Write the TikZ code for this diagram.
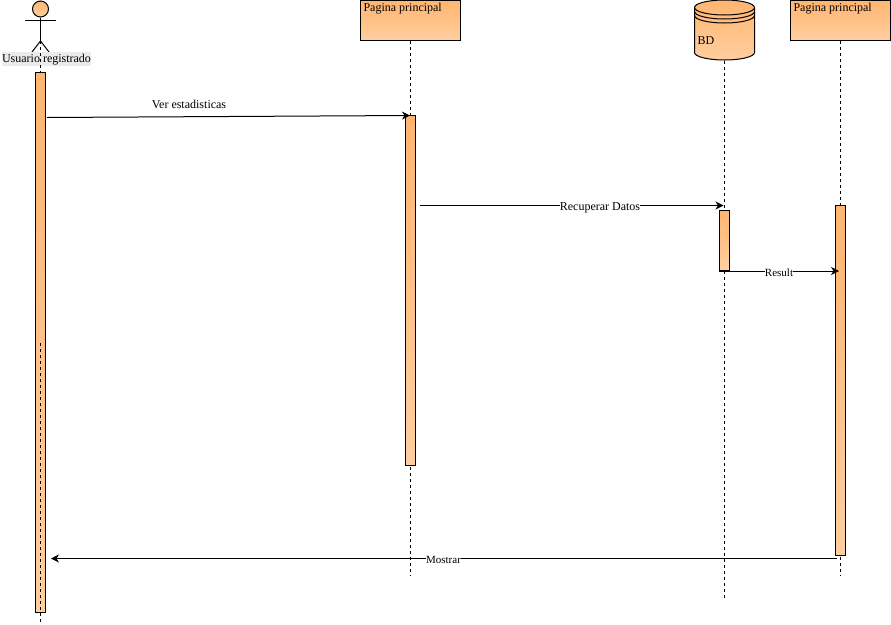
\documentclass[tikz,border=0pt]{standalone}
\usepackage{fontspec}
\setmainfont{Liberation Serif}
\usetikzlibrary{arrows.meta}
\definecolor{orangetop}{HTML}{FFB570}
\definecolor{orangelow}{HTML}{FFCE9F}
\tikzset{
  headbox/.style={draw=black,top color=orangetop,bottom color=orangelow,minimum width=100pt,minimum height=40pt,inner sep=0pt},
  activebar/.style={draw=black,top color=orangetop,bottom color=orangelow,minimum width=10pt,inner sep=0pt},
  lifeline/.style={draw=black,dash pattern=on 3pt off 3pt},
  msg/.style={draw=black,-{Stealth[length=8pt,width=8pt,inset=2.5pt]}},
  txt/.style={font=\fontsize{12pt}{14pt}\selectfont,inner sep=0pt},
  smalltxt/.style={font=\fontsize{11pt}{13pt}\selectfont,inner sep=0pt,fill=white}
}
\begin{document}
\begin{tikzpicture}[x=1pt,y=1pt,line width=1pt]
   \useasboundingbox (0,0) rectangle (891,-624);
   % actor
   \node[circle,draw=black,top color=orangetop,bottom color=orangelow,minimum size=16pt,inner sep=0pt] (head) at (40.5,-9) {};
   \coordinate (hip) at (40.5,-41);
   \draw (head.south) -- (hip);
   \draw (25,-20) -- (56,-20);
   \draw (32,-52) -- (hip) -- (49,-52);
   \node[fill=black!8,minimum height=14pt,minimum width=89pt,inner sep=0pt] (actorback) at (46.5,-59) {};
   \node[txt] (actorlabel) at (46.5,-59.5) {Usuario registrado};
   % heads
   \node[headbox] (page) at (410.5,-20) {};
   \node[txt,anchor=north west] (pagetext) at (363,-3) {Pagina principal};
   \node[headbox] (pagetwo) at (840.5,-20) {};
   \node[txt,anchor=north west] (pagetwotext) at (793,-3) {Pagina principal};
   % data store
   \node[minimum width=60pt,minimum height=60pt,inner sep=0pt] (bd) at (724.5,-30) {};
   \filldraw[draw=black,top color=orangetop,bottom color=orangelow]
    (694.5,-7.5) arc(180:0:30pt and 7.5pt) -- (754.5,-52.5) arc(0:-180:30pt and 7.5pt) -- cycle;
   \draw (694.5,-7.5) arc(180:360:30pt and 7.5pt);
   \draw (694.5,-11.5) arc(180:360:30pt and 7.5pt);
   \draw (694.5,-15.5) arc(180:360:30pt and 7.5pt);
   \node[txt,anchor=west] (bdtext) at (697,-41) {BD};
   % lifelines
   \coordinate (actorend) at (40.5,-622);
   \coordinate (actormid) at (40.5,-343);
   \coordinate (pageend) at (410.5,-576);
   \coordinate (bdend) at (724.5,-600);
   \coordinate (pagetwoend) at (840.5,-576);
   \draw[lifeline] (hip) -- (40.5,-72);
   \draw[lifeline] (page.south) -- (pageend);
   \draw[lifeline] (bd.south) -- (bdend);
   \draw[lifeline] (pagetwo.south) -- (pagetwoend);
   % bars
   \node[activebar,minimum height=540pt] (baractor) at (40.5,-342) {};
   \node[activebar,minimum height=350pt] (barpage) at (410.5,-290) {};
   \node[activebar,minimum height=60pt] (barbd) at (724.5,-240) {};
   \node[activebar,minimum height=350pt] (barpagetwo) at (840.5,-380.5) {};
   \draw[lifeline] (actormid) -- (actorend);
   % messages
   \coordinate (verfrom) at (47,-117.5);
   \coordinate (verto) at (410,-115.5);
   \coordinate (datosfrom) at (420,-205.5);
   \coordinate (datosto) at (723.5,-205.5);
   \coordinate (resultfrom) at (719,-271);
   \coordinate (resultto) at (839,-271);
   \coordinate (mostrarfrom) at (837,-558.5);
   \coordinate (mostrarto) at (51,-558.5);
   \draw[msg] (verfrom) -- (verto);
   \node[txt] (vertext) at (189,-104.5) {Ver estadisticas};
   \draw[msg] (datosfrom) -- (datosto);
   \node[txt,fill=white] (datostext) at (600,-208) {Recuperar Datos};
   \draw[msg] (resultfrom) -- (resultto);
   \node[smalltxt] (resulttext) at (779,-273) {Result};
   \draw[msg] (mostrarfrom) -- (mostrarto);
   \node[smalltxt] (mostrartext) at (443.5,-560) {Mostrar};
\end{tikzpicture}
\end{document}
